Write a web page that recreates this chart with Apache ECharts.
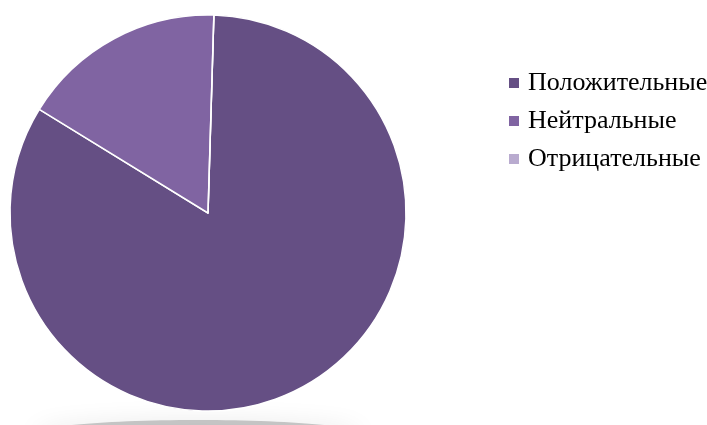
<!DOCTYPE html>
<html>
<head>
<meta charset="utf-8">
<script src="https://cdn.jsdelivr.net/npm/echarts@6/dist/echarts.min.js"></script>
<style>
  html, body { margin: 0; padding: 0; background: #fff; }
  #chart { width: 707px; height: 425px; }
</style>
</head>
<body>
<div id="chart"></div>
<script>
// данные диаграммы
const categories = ['Положительные', 'Нейтральные', 'Отрицательные']
const values = [83.3, 16.7, 0]
const colors = ['#654f84', '#8064a2', '#b9abcf']

const chart = echarts.init(document.getElementById('chart'))

chart.setOption({
  animation: false,
  // тень под диаграммой
  graphic: [{
    type: 'ellipse',
    z: 0,
    silent: true,
    shape: { cx: 198, cy: 434, rx: 165, ry: 14 },
    style: {
      fill: 'rgba(0,0,0,0.2)',
      shadowBlur: 24,
      shadowColor: 'rgba(0,0,0,0.4)'
    }
  }],
  legend: {
    orient: 'vertical',
    left: 502,
    top: 65,
    itemWidth: 12,
    itemHeight: 12,
    itemGap: 12,
    icon: 'rect',
    data: categories,
    textStyle: {
      fontFamily: 'Liberation Serif',
      fontSize: 26,
      lineHeight: 25,
      color: '#000',
      padding: [0, 0, 0, 3]
    }
  },
  series: [
    {
      type: 'pie',
      center: [208, 213],
      radius: 198,
      startAngle: 88.3,
      z: 2,
      label: { show: false },
      labelLine: { show: false },
      itemStyle: {
        borderColor: '#fff',
        borderWidth: 1.5
      },
      data: categories.map((name, i) => ({
        name: name,
        value: values[i],
        itemStyle: { color: colors[i] }
      }))
    }
  ]
})
</script>
</body>
</html>
